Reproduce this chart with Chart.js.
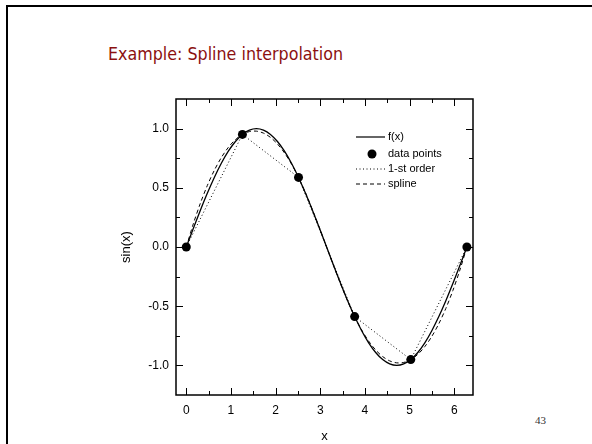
<!DOCTYPE html>
<html>
<head>
<meta charset="utf-8">
<script src="https://cdn.jsdelivr.net/npm/chart.js@4.4.0/dist/chart.umd.min.js"></script>
<style>
  html, body { margin: 0; padding: 0; background: #fff; }
  body { width: 592px; height: 444px; position: relative; overflow: hidden; }
  #frame { position: absolute; left: 6px; top: 5px; right: -4px; bottom: -4px;
           border-top: 2px solid #000; border-left: 2px solid #000; }
  #title { position: absolute; left: 108px; top: 46px; font-family: "DejaVu Sans";
           font-size: 17px; line-height: 1; color: #8b1010; white-space: nowrap;
           transform-origin: left top; }
  #page { position: absolute; left: 535px; top: 414px; font-family: "Liberation Serif";
          font-size: 11px; color: #333; }
  #wrap { position: absolute; left: 0; top: 0; width: 592px; height: 444px; }
</style>
</head>
<body>
<div id="frame"></div>
<div id="title">Example: Spline interpolation</div>
<div id="page">43</div>
<div id="wrap"><canvas id="chart" width="592" height="444"></canvas></div>
<script>
// sample positions for the two smooth curves
const xFine = [0.000, 0.157, 0.314, 0.471, 0.628, 0.785, 0.942, 1.100, 1.257, 1.414,
               1.571, 1.728, 1.885, 2.042, 2.199, 2.356, 2.513, 2.670, 2.827, 2.985,
               3.142, 3.299, 3.456, 3.613, 3.770, 3.927, 4.084, 4.241, 4.398, 4.555,
               4.712, 4.869, 5.027, 5.184, 5.341, 5.498, 5.655, 5.812, 5.969, 6.126, 6.283];
// f(x)
const fVals = [0, 0.1564, 0.3090, 0.4540, 0.5878, 0.7071, 0.8090, 0.8910, 0.9511, 0.9877,
               1.0, 0.9877, 0.9511, 0.8910, 0.8090, 0.7071, 0.5878, 0.4540, 0.3090, 0.1564,
               0, -0.1564, -0.3090, -0.4540, -0.5878, -0.7071, -0.8090, -0.8910, -0.9511, -0.9877,
               -1.0, -0.9877, -0.9511, -0.8910, -0.8090, -0.7071, -0.5878, -0.4540, -0.3090, -0.1564, 0];
// spline through the data points
const splineVals = [0, 0.1951, 0.3680, 0.5188, 0.6478, 0.7553, 0.8415, 0.9067, 0.9510, 0.9749,
                    0.9785, 0.9620, 0.9257, 0.8699, 0.7948, 0.7007, 0.5878, 0.4571, 0.3124, 0.1585,
                    0, -0.1585, -0.3124, -0.4571, -0.5878, -0.7007, -0.7948, -0.8699, -0.9257, -0.9620,
                    -0.9785, -0.9749, -0.9510, -0.9067, -0.8415, -0.7553, -0.6478, -0.5188, -0.3680, -0.1951, 0];
// data points
const knotX = [0, 1.257, 2.513, 3.770, 5.027, 6.283];
const knotY = [0, 0.951, 0.588, -0.588, -0.951, 0];

const xTicks = [0, 1, 2, 3, 4, 5, 6];
const yTicks = [-1.0, -0.5, 0.0, 0.5, 1.0];

// fit the title to the width it has on the slide
const title = document.getElementById('title');
title.style.transform = 'scaleX(' + (235 / title.offsetWidth) + ')';

const pts = (xs, ys) => xs.map((x, i) => ({x: x, y: ys[i]}));
const axisFont = {family: 'Liberation Sans', size: 12};

const boxTicks = {
    id: 'boxTicks',
    afterDraw(chart) {
        const {ctx, chartArea: a, scales: {x, y}} = chart;
        ctx.save();
        ctx.strokeStyle = '#000';
        ctx.lineWidth = 1.5;
        ctx.strokeRect(a.left, a.top, a.right - a.left, a.bottom - a.top);
        ctx.lineWidth = 1;
        ctx.beginPath();
        const xMarks = [];
        xTicks.forEach(v => { xMarks.push([v, 7]); xMarks.push([v + 0.5, 4]); });
        xMarks.forEach(([v, len]) => {
            if (v > x.max) return;
            const px = Math.round(x.getPixelForValue(v)) + 0.5;
            ctx.moveTo(px, a.bottom); ctx.lineTo(px, a.bottom - len);
            ctx.moveTo(px, a.top); ctx.lineTo(px, a.top + len);
        });
        const yMarks = [];
        yTicks.forEach(v => { yMarks.push([v, 7]); });
        yTicks.slice(0, -1).forEach(v => { yMarks.push([v + 0.25, 4]); });
        yMarks.forEach(([v, len]) => {
            const py = Math.round(y.getPixelForValue(v)) + 0.5;
            ctx.moveTo(a.left, py); ctx.lineTo(a.left + len, py);
            ctx.moveTo(a.right, py); ctx.lineTo(a.right - len, py);
        });
        ctx.stroke();

        // legend
        const lx = a.left + 180, tx = a.left + 212;
        const rows = [a.top + 38, a.top + 55, a.top + 70, a.top + 85];
        ctx.font = '11px "Liberation Sans"';
        ctx.fillStyle = '#000';
        ctx.textBaseline = 'middle';
        const sample = (yy, dash, w) => {
            ctx.beginPath();
            ctx.setLineDash(dash);
            ctx.lineWidth = w;
            ctx.moveTo(lx, yy); ctx.lineTo(lx + 29, yy);
            ctx.stroke();
        };
        sample(rows[0], [], 1.2);
        ctx.setLineDash([]);
        ctx.beginPath();
        ctx.arc(a.left + 196, rows[1], 4.5, 0, Math.PI * 2);
        ctx.fill();
        sample(rows[2], [1, 2.5], 1);
        sample(rows[3], [4, 3], 1);
        ctx.setLineDash([]);
        ctx.fillText('f(x)', tx, rows[0]);
        ctx.fillText('data points', tx, rows[1]);
        ctx.fillText('1-st order', tx, rows[2]);
        ctx.fillText('spline', tx, rows[3]);
        ctx.restore();
    }
};

new Chart(document.getElementById('chart'), {
    type: 'line',
    data: {
        datasets: [{
            label: '1-st order',
            data: pts(knotX, knotY),
            borderColor: '#000',
            borderWidth: 1,
            borderDash: [1, 2.5],
            pointRadius: 0,
            tension: 0
        }, {
            label: 'spline',
            data: pts(xFine, splineVals),
            borderColor: '#000',
            borderWidth: 1,
            borderDash: [4, 3],
            pointRadius: 0,
            tension: 0.3
        }, {
            label: 'f(x)',
            data: pts(xFine, fVals),
            borderColor: '#000',
            borderWidth: 1.3,
            pointRadius: 0,
            tension: 0.3
        }, {
            label: 'data points',
            data: pts(knotX, knotY),
            showLine: false,
            pointRadius: 4.5,
            pointBackgroundColor: '#000',
            pointBorderWidth: 0
        }]
    },
    options: {
        responsive: false,
        animation: false,
        layout: {padding: {left: 100, top: 99, right: 119, bottom: 0}},
        plugins: {legend: {display: false}, tooltip: {enabled: false}},
        scales: {
            x: {
                type: 'linear',
                min: -0.23,
                max: 6.42,
                afterBuildTicks: s => { s.ticks = xTicks.map(v => ({value: v})); },
                afterFit: s => { s.height = 49; },
                grid: {display: false, drawTicks: false},
                border: {display: false},
                ticks: {color: '#000', font: axisFont, padding: 8, callback: v => String(v)},
                title: {display: true, text: 'x', color: '#000',
                        font: {family: 'Liberation Sans', size: 13}, padding: 0}
            },
            y: {
                type: 'linear',
                min: -1.25,
                max: 1.25,
                afterBuildTicks: s => { s.ticks = yTicks.map(v => ({value: v})); },
                afterFit: s => { s.width = 76; },
                grid: {display: false, drawTicks: false},
                border: {display: false},
                ticks: {color: '#000', font: axisFont, padding: 7, callback: v => v.toFixed(1)},
                title: {display: true, text: 'sin(x)', color: '#000',
                        font: {family: 'Liberation Sans', size: 13}, padding: {top: 19, bottom: 0}}
            }
        }
    },
    plugins: [boxTicks]
});
</script>
</body>
</html>
